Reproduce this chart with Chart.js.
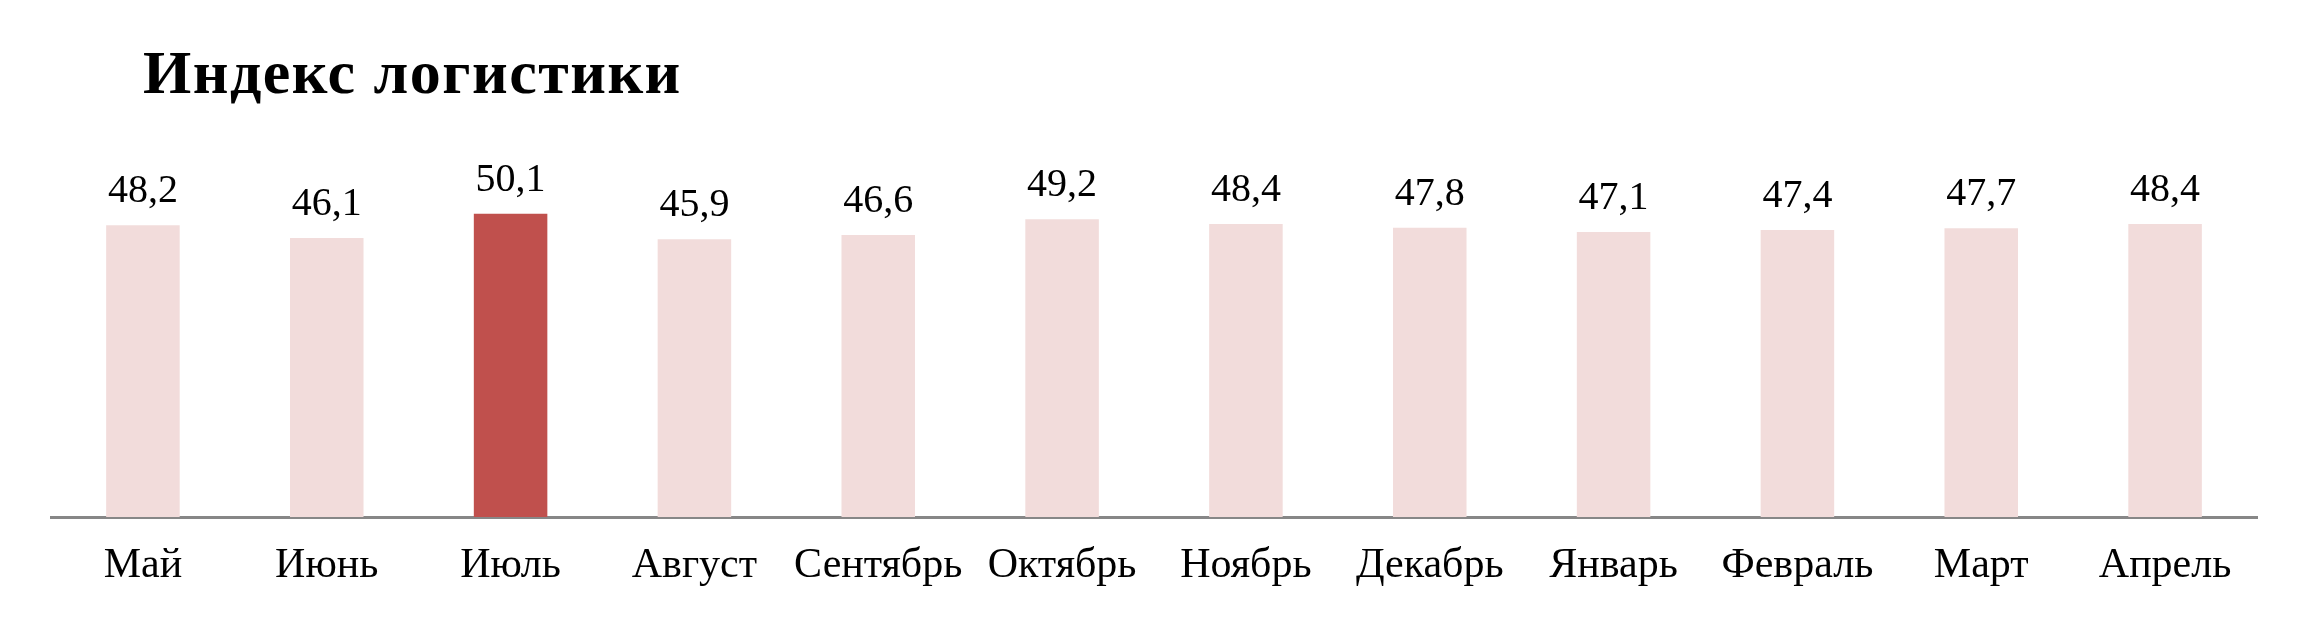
<!DOCTYPE html>
<html lang="ru">
<head>
    <meta charset="UTF-8">
    <title>Индекс логистики</title>
    <script src="https://cdn.jsdelivr.net/npm/chart.js"></script>
    <style>
        html, body {
            margin: 0;
            padding: 0;
            background: #ffffff;
        }
        .wrap {
            position: relative;
            width: 2307px;
            height: 620px;
        }
        .title {
            position: absolute;
            left: 143px;
            top: 41px;
            margin: 0;
            font-family: "Liberation Serif", serif;
            font-weight: bold;
            font-size: 62px;
            line-height: 62px;
            letter-spacing: 1.5px;
            color: #000;
        }
        canvas {
            position: absolute;
            left: 0;
            top: 0;
        }
    </style>
</head>
<body>
    <div class="wrap">
        <canvas id="chart" width="2307" height="620"></canvas>
        <h1 class="title">Индекс логистики</h1>
    </div>
    <script>
        const months = ["Май", "Июнь", "Июль", "Август", "Сентябрь", "Октябрь", "Ноябрь", "Декабрь", "Январь", "Февраль", "Март", "Апрель"];
        const values = [48.2, 46.1, 50.1, 45.9, 46.6, 49.2, 48.4, 47.8, 47.1, 47.4, 47.7, 48.4];
        const highlightMonth = "Июль";

        const lightColor = "#f2dcdb";
        const darkColor = "#c0504d";
        const serif = "'Liberation Serif', serif";

        // value labels over the bars (no datalabels plugin offline)
        const valueLabels = {
            id: "valueLabels",
            afterDatasetsDraw(chart) {
                const ctx = chart.ctx;
                const meta = chart.getDatasetMeta(0);
                ctx.save();
                ctx.font = "40px " + serif;
                ctx.fillStyle = "#000";
                ctx.textAlign = "center";
                ctx.textBaseline = "alphabetic";
                meta.data.forEach((bar, i) => {
                    const txt = values[i].toFixed(1).replace(".", ",");
                    ctx.fillText(txt, bar.x, bar.y - 23);
                });
                ctx.restore();
            }
        };

        new Chart(document.getElementById("chart"), {
            type: "bar",
            data: {
                labels: months,
                datasets: [{
                    data: values,
                    backgroundColor: months.map(m => m === highlightMonth ? darkColor : lightColor),
                    categoryPercentage: 1,
                    barPercentage: 0.4
                }]
            },
            options: {
                responsive: false,
                devicePixelRatio: 1,
                animation: false,
                layout: {
                    padding: { left: 51, right: 50, top: 178, bottom: 0 }
                },
                plugins: {
                    legend: { display: false },
                    tooltip: { enabled: false }
                },
                scales: {
                    y: {
                        display: false,
                        min: 0,
                        max: 56
                    },
                    x: {
                        grid: { display: false, drawTicks: false },
                        border: { display: true, color: "#878787", width: 3 },
                        ticks: {
                            color: "#000",
                            padding: 24,
                            maxRotation: 0,
                            autoSkip: false,
                            font: { family: serif, size: 42 }
                        },
                        afterFit(scale) {
                            scale.height = 103;
                        }
                    }
                }
            },
            plugins: [valueLabels]
        });
    </script>
</body>
</html>
